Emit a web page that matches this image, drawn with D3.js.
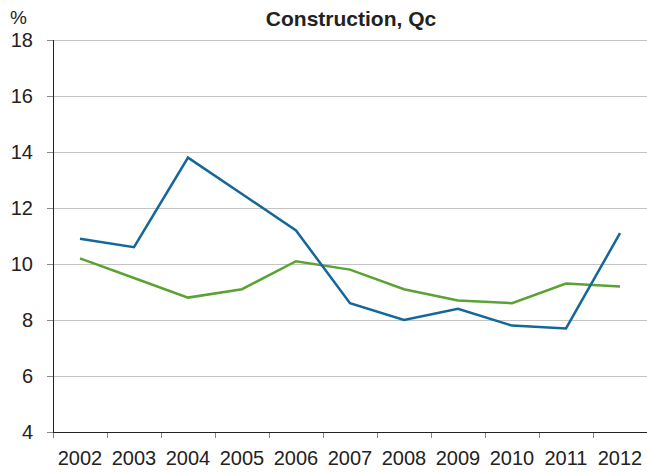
<!DOCTYPE html>
<html>
<head>
<meta charset="utf-8">
<script src="https://cdn.jsdelivr.net/npm/d3@7"></script>
<style>
  body { margin: 0; background: #fff; }
  text { font-family: "Liberation Sans", Arial, sans-serif; }
</style>
</head>
<body>
<div id="chart"></div>
<script>
// data
var years = ["2002", "2003", "2004", "2005", "2006", "2007", "2008", "2009", "2010", "2011", "2012"];
var blueValues = [10.9, 10.6, 13.8, 12.5, 11.2, 8.6, 8.0, 8.4, 7.8, 7.7, 11.1];
var greenValues = [10.2, 9.5, 8.8, 9.1, 10.1, 9.8, 9.1, 8.7, 8.6, 9.3, 9.2];
var yTicks = [4, 6, 8, 10, 12, 14, 16, 18];

var width = 647;
var height = 472;
var plotLeft = 53, plotRight = 647, plotTop = 40, plotBottom = 432;

var svg = d3.select("#chart")
            .append("svg")
            .attr("width", width)
            .attr("height", height);

var xScale = d3.scaleBand()
               .domain(years)
               .range([plotLeft, plotRight]);

var yScale = d3.scaleLinear()
               .domain([4, 18])
               .range([plotBottom, plotTop]);

// gridlines
svg.append("g")
   .selectAll("line")
   .data(yTicks.slice(1))
   .enter()
   .append("line")
   .attr("x1", plotLeft)
   .attr("x2", plotRight)
   .attr("y1", d => Math.round(yScale(d)) + 0.5)
   .attr("y2", d => Math.round(yScale(d)) + 0.5)
   .attr("stroke", "#c4c4c4")
   .attr("stroke-width", 1);

// y ticks + labels
var yAxis = svg.append("g");
yAxis.selectAll("line")
     .data(yTicks)
     .enter()
     .append("line")
     .attr("x1", plotLeft - 6)
     .attr("x2", plotLeft)
     .attr("y1", d => Math.round(yScale(d)) + 0.5)
     .attr("y2", d => Math.round(yScale(d)) + 0.5)
     .attr("stroke", "#888");
yAxis.selectAll("text")
     .data(yTicks)
     .enter()
     .append("text")
     .attr("x", 33)
     .attr("y", d => yScale(d) + 7)
     .attr("text-anchor", "end")
     .attr("font-size", 20)
     .attr("fill", "#222")
     .text(d => d);

// x ticks at band edges
svg.append("g")
   .selectAll("line")
   .data(years)
   .enter()
   .append("line")
   .attr("x1", d => Math.round(xScale(d)) + 0.5)
   .attr("x2", d => Math.round(xScale(d)) + 0.5)
   .attr("y1", plotBottom)
   .attr("y2", plotBottom + 6)
   .attr("stroke", "#888");

svg.append("g")
   .selectAll("text")
   .data(years)
   .enter()
   .append("text")
   .attr("x", d => xScale(d) + xScale.bandwidth() / 2)
   .attr("y", 465)
   .attr("text-anchor", "middle")
   .attr("font-size", 20)
   .attr("fill", "#222")
   .text(d => d);

// axis lines
svg.append("line")
   .attr("x1", plotLeft + 0.5).attr("x2", plotLeft + 0.5)
   .attr("y1", plotTop).attr("y2", plotBottom)
   .attr("stroke", "#222");
svg.append("line")
   .attr("x1", plotLeft).attr("x2", plotRight)
   .attr("y1", plotBottom + 0.5).attr("y2", plotBottom + 0.5)
   .attr("stroke", "#222");

// lines
var line = d3.line()
             .x((d, i) => xScale(years[i]) + xScale.bandwidth() / 2)
             .y(d => yScale(d));

svg.append("path")
   .datum(greenValues)
   .attr("d", line)
   .attr("fill", "none")
   .attr("stroke", "#5ba235")
   .attr("stroke-width", 2.5);

svg.append("path")
   .datum(blueValues)
   .attr("d", line)
   .attr("fill", "none")
   .attr("stroke", "#14679a")
   .attr("stroke-width", 2.5);

// title and unit
svg.append("text")
   .attr("x", 351)
   .attr("y", 26)
   .attr("text-anchor", "middle")
   .attr("font-size", 21)
   .attr("font-weight", "bold")
   .attr("fill", "#222")
   .text("Construction, Qc");

svg.append("text")
   .attr("x", 10)
   .attr("y", 24)
   .attr("font-size", 19)
   .attr("fill", "#222")
   .text("%");
</script>
</body>
</html>
